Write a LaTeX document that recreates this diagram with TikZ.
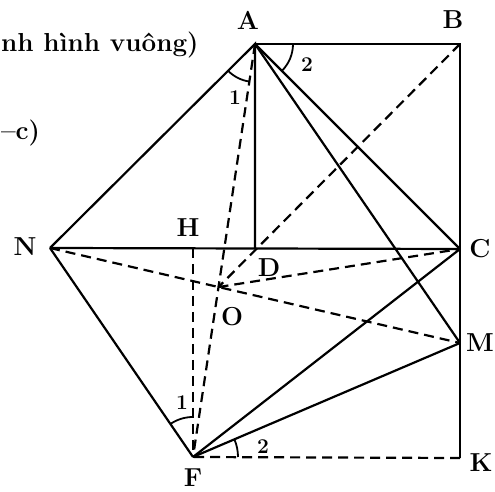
\documentclass[tikz,border=0pt]{standalone}
\usepackage{fontspec}
\begin{document}
\begin{tikzpicture}[x=1pt,y=1pt,line width=2.2pt,
  lbl/.style={font=\fontsize{26}{30}\selectfont\bfseries,inner sep=1pt},
  num/.style={font=\fontsize{21}{24}\selectfont\bfseries,inner sep=1pt},
  txt/.style={font=\fontsize{26}{30}\selectfont\bfseries,anchor=base west,inner sep=0pt},
  dsh/.style={dash pattern=on 10pt off 6pt}]
\useasboundingbox (0,0) rectangle (495,492);

\coordinate (A) at (255,448);
\coordinate (B) at (460,448);
\coordinate (C) at (460,243);
\coordinate (D) at (255,243);
\coordinate (N) at (50,244);
\coordinate (H) at (193,244);
\coordinate (M) at (460,149);
\coordinate (F) at (193,35);
\coordinate (K) at (460,34);
\coordinate (O) at (intersection of A--F and N--M);

% solid lines
\draw (A) -- (B) -- (C) -- (M) -- (K);
\draw (N) -- (A) -- (D);
\draw (N) -- (F);
\draw (N) -- (C);
\draw (A) -- (C);
\draw (A) -- (M);
\draw (F) -- (C);
\draw (F) -- (M);

% dashed lines
\draw[dsh] (K) -- (F);
\draw[dsh] (A) -- (F);
\draw[dsh] (B) -- (O);
\draw[dsh] (N) -- (M);
\draw[dsh] (O) -- (C);
\draw[dsh] (H) -- (F);

% angles
\draw[line width=1.8pt] (A) ++(224.9:38) arc (224.9:261.5:38);
\draw[line width=1.8pt] (A) ++(0:38) arc (0:-45:38);
\draw[line width=1.8pt] (F) ++(90:40) arc (90:124.4:40);
\draw[line width=1.8pt] (F) ++(0:45) arc (0:23.1:45);

\node[num] (a1) at (235,394) {1};
\node[num] (a2) at (307,427) {2};
\node[num] (f1) at (182,89) {1};
\node[num] (f2) at (263,45) {2};

% labels
\node[lbl] (lA) at (248,472) {A};
\node[lbl] (lB) at (453,472) {B};
\node[lbl] (lC) at (480,243) {C};
\node[lbl] (lD) at (269,224) {D};
\node[lbl] (lN) at (25,245) {N};
\node[lbl] (lH) at (188,264) {H};
\node[lbl] (lO) at (232,175) {O};
\node[lbl] (lM) at (480,149) {M};
\node[lbl] (lF) at (193,14) {F};
\node[lbl] (lK) at (481,29) {K};

% cut text of the page
\node[txt] (t1) at (0,440) {nh hình vuông)};
\node[txt] (t2) at (0,352) {–c)};
\end{tikzpicture}
\end{document}
